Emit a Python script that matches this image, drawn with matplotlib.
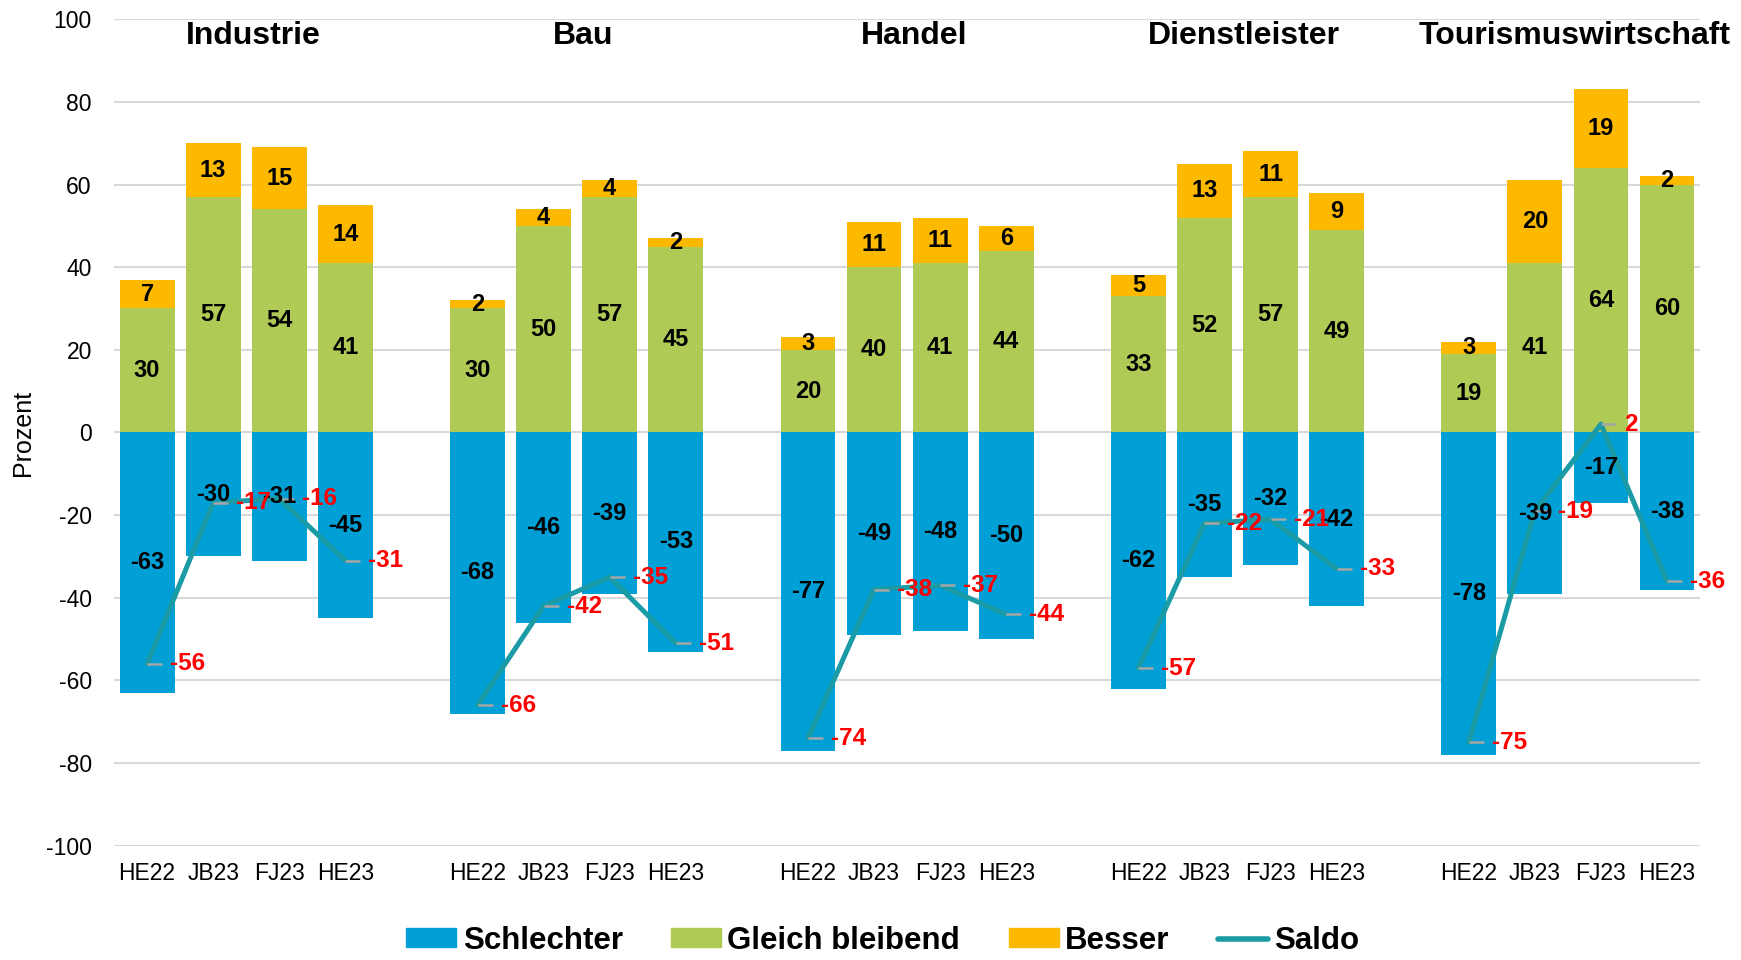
import numpy as np
import matplotlib.pyplot as plt
from matplotlib.patches import Patch
from matplotlib.lines import Line2D
from matplotlib.path import Path

plt.rcParams['font.family'] = ['Liberation Sans', 'DejaVu Sans']
plt.rcParams['axes.unicode_minus'] = False

# Data
groups = ["Industrie", "Bau", "Handel", "Dienstleister", "Tourismuswirtschaft"]
periods = ["HE22", "JB23", "FJ23", "HE23"]

schlechter = [
    [-63, -30, -31, -45],
    [-68, -46, -39, -53],
    [-77, -49, -48, -50],
    [-62, -35, -32, -42],
    [-78, -39, -17, -38],
]
gleich = [
    [30, 57, 54, 41],
    [30, 50, 57, 45],
    [20, 40, 41, 44],
    [33, 52, 57, 49],
    [19, 41, 64, 60],
]
besser = [
    [7, 13, 15, 14],
    [2, 4, 4, 2],
    [3, 11, 11, 6],
    [5, 13, 11, 9],
    [3, 20, 19, 2],
]
saldo = [
    [-56, -17, -16, -31],
    [-66, -42, -35, -51],
    [-74, -38, -37, -44],
    [-57, -22, -21, -33],
    [-75, -19, 2, -36],
]

c_blue = "#009FD5"
c_green = "#B0CB55"
c_orange = "#FDB900"
c_line = "#1A9BA6"

# dash marker that starts at the point and runs to the right
dash = Path([(0, 0), (1, 0)], [Path.MOVETO, Path.LINETO])

fig = plt.figure(figsize=(17.41, 9.60), dpi=100)
ax = fig.add_axes([0.0655, 0.119, 0.911, 0.861])

n = len(periods)
w = 0.83
all_x = []
all_lab = []
for g, name in enumerate(groups):
    x = np.arange(n) + g * (n + 1)
    s = np.array(schlechter[g])
    gl = np.array(gleich[g])
    b = np.array(besser[g])
    ax.bar(x, s, w, color=c_blue, zorder=2)
    ax.bar(x, gl, w, color=c_green, zorder=2)
    ax.bar(x, b, w, bottom=gl, color=c_orange, zorder=2)
    for xi, sv, gv, bv in zip(x, s, gl, b):
        kw = dict(ha='center', va='center', fontsize=17, fontweight='bold', color='black', zorder=5)
        ax.text(xi, sv / 2, str(sv), **kw)
        ax.text(xi, gv / 2, str(gv), **kw)
        ax.text(xi, gv + bv / 2, str(bv), **kw)
    ax.plot(x, saldo[g], color=c_line, lw=3.6, zorder=3, solid_capstyle='round')
    ax.plot(x, saldo[g], ls='none', marker=dash, markersize=22, mew=1.8, color='#A6A6A6', zorder=4)
    for xi, v in zip(x, saldo[g]):
        ax.annotate(str(v), (xi, v), xytext=(23, 0), textcoords='offset pixels',
                    ha='left', va='center', fontsize=17.5, fontweight='bold', color='red', zorder=6)
    ax.text(x.mean() + 0.1, 96, name, ha='center', va='center', fontsize=23, fontweight='bold')
    all_x.extend(x)
    all_lab.extend(periods)

ax.set_xlim(-0.5, len(groups) * (n + 1) - 1.5)
ax.set_ylim(-100, 100)
ax.set_yticks(np.arange(-100, 101, 20))
ax.set_xticks(all_x)
ax.set_xticklabels(all_lab)
ax.tick_params(axis='both', length=0, labelsize=16.5)
ax.tick_params(axis='x', pad=12)
ax.tick_params(axis='y', pad=16)
ax.grid(axis='y', color='#D9D9D9', lw=1.5, zorder=0)
ax.set_axisbelow(True)
for sp in ax.spines.values():
    sp.set_visible(False)
ax.set_ylabel("Prozent", fontsize=18)
ax.yaxis.set_label_coords(-0.05, 0.5)

handles = [
    Patch(color=c_blue, label="Schlechter"),
    Patch(color=c_green, label="Gleich bleibend"),
    Patch(color=c_orange, label="Besser"),
    Line2D([0], [0], color=c_line, lw=4, solid_capstyle='round', label="Saldo"),
]
fig.legend(handles=handles, loc='center', bbox_to_anchor=(0.507, 0.02), ncol=4, frameon=False,
           prop={'weight': 'bold', 'size': 22.5}, borderpad=0.2,
           handlelength=1.6, handleheight=0.55, handletextpad=0.2, columnspacing=1.55)

fig.savefig("out.png", dpi=100)
